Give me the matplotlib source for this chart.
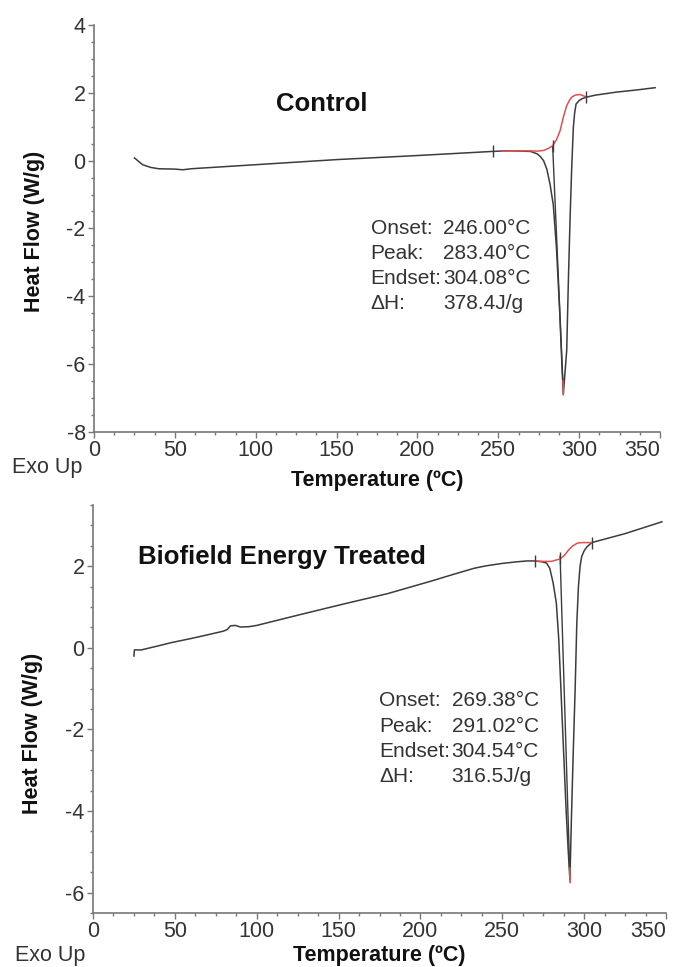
import matplotlib
matplotlib.use("Agg")
import matplotlib.pyplot as plt
from matplotlib.ticker import MultipleLocator

plt.rcParams['font.family'] = ['Liberation Sans', 'DejaVu Sans']
plt.rcParams['axes.unicode_minus'] = False

# Control: DSC trace
ctrl_t = [25, 27, 30, 35, 40, 50, 55, 60, 80, 100, 150, 200, 246, 255, 265, 270, 274,
          276, 278, 280, 282, 284, 286, 288, 289.5, 290.2, 291, 292.3, 293.3, 294.4,
          295.4, 296.4, 297.2, 298.1, 300, 301.6, 304.3, 310, 323, 335, 347]
ctrl_hf = [0.08, 0.0, -0.12, -0.2, -0.24, -0.25, -0.27, -0.24, -0.18, -0.12, 0.03, 0.15,
           0.27, 0.29, 0.28, 0.27, 0.2, 0.12, 0.0, -0.25, -0.7, -1.3, -2.6, -4.5, -6.2,
           -6.88, -6.4, -5.6, -3.6, -1.67, -0.2, 0.98, 1.4, 1.67, 1.77, 1.82, 1.87, 1.93,
           2.02, 2.08, 2.15]
ctrl_base_t = [252, 260, 268, 274, 278, 281, 283.6, 286, 288.2, 290.2, 292.3, 294,
               295.4, 297.5, 300.5, 304.3]
ctrl_base_hf = [0.28, 0.29, 0.29, 0.28, 0.3, 0.36, 0.44, 0.62, 0.88, 1.28, 1.62, 1.78,
                1.87, 1.93, 1.95, 1.88]
ctrl_drop_t = [283.6, 290.1]
ctrl_drop_hf = [0.44, -6.7]
ctrl_tip_t = [290.0, 290.2]
ctrl_tip_hf = [-6.5, -6.9]
ctrl_marks_t = [246.5, 283.6, 304.3]
ctrl_marks_hf = [0.28, 0.44, 1.87]

# Biofield Energy Treated: DSC trace
bio_t = [25, 25.3, 29.5, 40, 48, 60, 70, 79.7, 82, 84, 87, 90, 95.5, 100, 127, 153.6,
         180, 206, 220, 232.7, 240, 250, 259, 265, 269.7, 274, 277, 279, 281, 283, 284.5,
         286, 287.5, 289, 290.3, 291.3, 292.2, 293.3, 294.5, 295.5, 296.5, 297.5, 298.5,
         300, 301.6, 304.6, 325, 347.5]
bio_hf = [-0.2, -0.05, -0.05, 0.05, 0.13, 0.23, 0.32, 0.41, 0.45, 0.54, 0.55, 0.51, 0.52,
          0.55, 0.82, 1.08, 1.33, 1.63, 1.8, 1.95, 2.01, 2.07, 2.11, 2.13, 2.13, 2.11,
          2.08, 1.95, 1.6, 1.1, 0.2, -1.2, -2.6, -4.0, -5.0, -5.69, -4.2, -2.6, -1.0, 0.6,
          1.5, 2.0, 2.24, 2.38, 2.47, 2.58, 2.8, 3.09]
bio_base_t = [270, 275, 280, 285.3, 288, 290.5, 293, 296, 299, 301, 304.6]
bio_base_hf = [2.13, 2.12, 2.12, 2.18, 2.27, 2.4, 2.5, 2.57, 2.58, 2.58, 2.58]
bio_drop_t = [285.3, 291.2]
bio_drop_hf = [2.25, -5.5]
bio_tip_t = [291.2, 291.4]
bio_tip_hf = [-5.4, -5.75]
bio_marks_t = [269.7, 285.3, 304.6]
bio_marks_hf = [2.13, 2.2, 2.58]

temp_ticks = [0, 50, 100, 150, 200, 250, 300, 350]
ctrl_labels = ["Onset:", "Peak:", "Endset:", "\u0394H:"]
ctrl_values = ["246.00°C", "283.40°C", "304.08°C", "378.4J/g"]
bio_values = ["269.38°C", "291.02°C", "304.54°C", "316.5J/g"]

line_c = '#3c3c3c'
red_c = '#e0504f'
text_c = '#333333'

fig = plt.figure(figsize=(6.75, 9.67), dpi=100)
ax1 = fig.add_axes([0.1393, 0.5533, 0.8385, 0.4209])
ax2 = fig.add_axes([0.1378, 0.0558, 0.8489, 0.4219])


def style_axes(ax, ylim, label_y, xlab_y):
    ax.set_xlim(0, 350)
    ax.set_ylim(*ylim)
    for s in ['top', 'right']:
        ax.spines[s].set_visible(False)
    for s in ['left', 'bottom']:
        ax.spines[s].set_color('#777777')
        ax.spines[s].set_linewidth(1.2)
    ax.set_xticks(temp_ticks)
    ax.set_xticklabels([str(v) for v in temp_ticks])
    ax.xaxis.set_minor_locator(MultipleLocator(12.5))
    ax.yaxis.set_major_locator(MultipleLocator(2))
    ax.yaxis.set_minor_locator(MultipleLocator(0.5))
    ax.tick_params(which='major', length=4, width=1, color='#777777',
                   labelsize=15.5, labelcolor=text_c, pad=2)
    ax.tick_params(which='minor', length=2.5, width=1, color='#777777')
    ax.set_ylabel('Heat Flow (W/g)', fontsize=15.5, fontweight='bold', color='#111111')
    ax.yaxis.set_label_coords(-0.087, label_y)
    ax.set_xlabel('Temperature (ºC)', fontsize=15.5, fontweight='bold', color='#111111')
    ax.xaxis.set_label_coords(0.5, xlab_y)
    ax.xaxis.label.set_va('center')
    ax.xaxis.get_major_ticks()[-1].label1.set_horizontalalignment('right')


def draw_trace(ax, t, hf, bt, bhf, dt, dhf, tt, thf, mt, mhf):
    ax.plot(t, hf, color=line_c, lw=1.1)
    ax.plot(dt, dhf, color=line_c, lw=1.0)
    ax.plot(bt, bhf, color=red_c, lw=1.1)
    ax.plot(tt, thf, color=red_c, lw=1.2)
    ax.plot(mt, mhf, ls='none', marker='|', ms=9, mew=1.0, color=line_c)


draw_trace(ax1, ctrl_t, ctrl_hf, ctrl_base_t, ctrl_base_hf, ctrl_drop_t, ctrl_drop_hf,
           ctrl_tip_t, ctrl_tip_hf, ctrl_marks_t, ctrl_marks_hf)
draw_trace(ax2, bio_t, bio_hf, bio_base_t, bio_base_hf, bio_drop_t, bio_drop_hf,
           bio_tip_t, bio_tip_hf, bio_marks_t, bio_marks_hf)

style_axes(ax1, (-8, 4), 0.494, -0.12)
style_axes(ax2, (-6.5, 3.5), 0.44, -0.103)

ax1.text(112.6, 1.66, 'Control', fontsize=18.5, fontweight='bold', color='#111111',
         va='center', ha='left')
ax2.text(27.4, 2.23, 'Biofield Energy Treated', fontsize=18.5, fontweight='bold',
         color='#111111', va='center', ha='left')

row_step = 0.74
for i, (lab, val) in enumerate(zip(ctrl_labels, ctrl_values)):
    y = -1.99 - i * row_step
    ax1.text(171, y, lab, fontsize=15, color=text_c, va='center', ha='left')
    ax1.text(216, y, val, fontsize=15, color=text_c, va='center', ha='left')

row_step2 = 0.62
for i, (lab, val) in enumerate(zip(ctrl_labels, bio_values)):
    y = -1.30 - i * row_step2
    ax2.text(174.7, y, lab, fontsize=15, color=text_c, va='center', ha='left')
    ax2.text(219, y, val, fontsize=15, color=text_c, va='center', ha='left')

fig.text(12 / 675, 1 - 468 / 967, 'Exo Up', fontsize=15.5, color=text_c, va='center', ha='left')
fig.text(15 / 675, 1 - 955 / 967, 'Exo Up', fontsize=15.5, color=text_c, va='center', ha='left')

fig.savefig('out.png', dpi=100)
